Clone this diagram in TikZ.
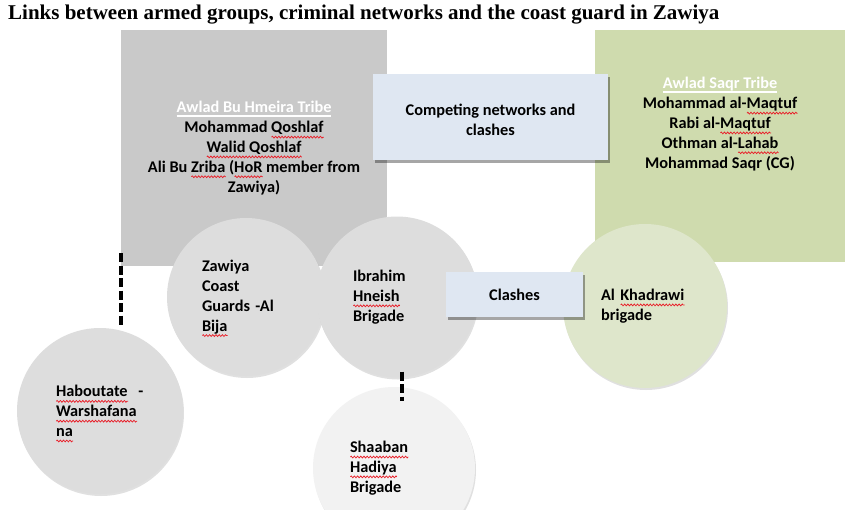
\documentclass[tikz,border=0pt]{standalone}
\usepackage{fontspec}
\setmainfont{Carlito}
\newfontfamily\titlefont{Liberation Serif}
\usetikzlibrary{shadows,decorations.pathmorphing}
\definecolor{graybox}{HTML}{C9C9C9}
\definecolor{saqrgreen}{HTML}{CFDBAE}
\definecolor{circgray}{HTML}{DDDDDD}
\definecolor{circlight}{HTML}{F2F2F2}
\definecolor{circgreen}{HTML}{DEE6CB}
\definecolor{boxblue}{HTML}{DFE7F2}
\definecolor{spellred}{HTML}{E8202A}
\newsavebox\sqbox
\newlength\sqlen
\newcommand\sq[1]{\leavevmode\sbox\sqbox{#1}\setlength\sqlen{\wd\sqbox}\rlap{\raisebox{-4.5pt}[0pt][0pt]{\tikz[x=1pt,y=1pt,baseline=0pt]\draw[spellred,line width=0.75pt,decorate,decoration={zigzag,amplitude=0.9pt,segment length=3.2pt}] (0,0) -- (\sqlen,0);}}\usebox\sqbox}
\newcommand\wul[1]{\leavevmode\sbox\sqbox{#1}\rlap{\rule[-3.8pt]{\wd\sqbox}{1.3pt}}\usebox\sqbox}
\begin{document}
\begin{tikzpicture}[x=1pt,y=-1pt,
  txt/.style={font=\fontsize{16.3}{19.8}\selectfont\bfseries},
  tribebox/.style={rectangle,inner sep=0pt,draw=none},
  netbox/.style={rectangle,inner sep=0pt,fill=boxblue,
    drop shadow={shadow xshift=2pt,shadow yshift=-2.5pt,opacity=0.35,fill=black}},
  grpcircle/.style={circle,inner sep=0pt,txt,text width=88pt,align=left,
    drop shadow={shadow xshift=1pt,shadow yshift=-2pt,opacity=0.12,fill=black}},
  dashlink/.style={line width=4pt,dash pattern=on 9pt off 3.5pt,black}]
\useasboundingbox[fill=white] (0,0) rectangle (856,509);
\node[anchor=base west,inner sep=0pt,font=\titlefont\bfseries\fontsize{21}{24}\selectfont] (title) at (8,19)
  {Links between armed groups, criminal networks and the coast guard in Zawiya};
\node[tribebox,fill=graybox,minimum width=266pt,minimum height=236pt,txt,align=center] (hmeira) at (254,148)
  {\textcolor{white}{\wul{Awlad Bu Hmeira Tribe}}\\Mohammad \sq{Qoshlaf}\\\sq{Walid Qoshlaf}\\Ali Bu \sq{Zriba} (\sq{HoR} member from\\Zawiya)};
\node[tribebox,fill=saqrgreen,minimum width=250pt,minimum height=232pt] (saqr) at (720,146) {};
\node[txt,align=center,inner sep=0pt] (saqrtxt) at (720,124)
  {\textcolor{white}{\wul{Awlad Saqr Tribe}}\\Mohammad al-\sq{Maqtuf}\\Rabi al-\sq{Maqtuf}\\Othman al-\sq{Lahab}\\Mohammad Saqr (CG)};
\node[grpcircle,fill=circgray,minimum size=158pt] (bija) at (246,297) {Zawiya\\Coast\\Guards -Al\\\sq{Bija}};
\node[grpcircle,fill=circgray,minimum size=161pt] (hneish) at (397,297) {Ibrahim\\\sq{Hneish}\\Brigade};
\node[grpcircle,fill=circgray,minimum size=166pt] (habou) at (100,411) {\sq{Haboutate}\ \ -\\\sq{Warshafana}\\\sq{na}};
\node[grpcircle,fill=circlight,minimum size=162pt] (hadiya) at (394,468) {\sq{Shaaban}\\\sq{Hadiya}\\Brigade};
\node[grpcircle,fill=circgreen,minimum size=164pt] (khadrawi) at (645,306) {Al \sq{Khadrawi}\\brigade};
\node[netbox,minimum width=235pt,minimum height=86pt] (compete) at (490.5,117) {};
\node[txt,align=center,inner sep=0pt] (competetxt) at (490.5,120) {Competing networks and\\clashes};
\node[netbox,minimum width=137pt,minimum height=45pt,txt] (clashes) at (514.5,294.5) {Clashes};
\draw[dashlink] ([yshift=13pt]hmeira.south west) -- (habou.north -| hmeira.south west);
\draw[dashlink] ([xshift=5pt,yshift=6pt]hneish.south) -- ([xshift=8pt,yshift=-14pt]hadiya.north);
\end{tikzpicture}
\end{document}
